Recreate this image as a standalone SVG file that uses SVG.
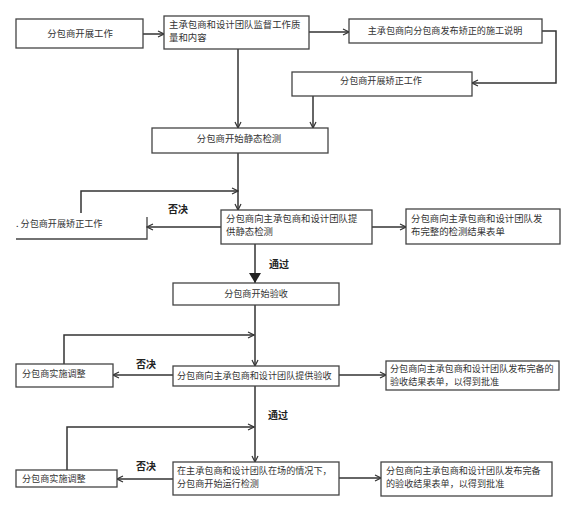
<svg xmlns="http://www.w3.org/2000/svg" width="574" height="507" viewBox="0 0 574 507">
<defs>
<marker id="a" markerWidth="8" markerHeight="8" refX="7" refY="4" orient="auto" markerUnits="userSpaceOnUse"><path d="M1,1 L7,4 L1,7" fill="none" stroke="#333" stroke-width="1.2"/></marker>
<marker id="f" markerWidth="12" markerHeight="12" refX="10" refY="6" orient="auto" markerUnits="userSpaceOnUse"><path d="M0,0 L10,6 L0,12 Z" fill="#222"/></marker>
<style>
.b{fill:#fff;stroke:#444;stroke-width:1.3}
.t{font-family:"Noto Sans CJK SC","Liberation Sans",sans-serif;font-size:9.1px;fill:#333}
.w{font-size:9.4px}
.c{text-anchor:middle}
.l{font-family:"Noto Sans CJK SC","Liberation Sans",sans-serif;font-size:10px;font-weight:bold;fill:#222}
.e{fill:none;stroke:#333;stroke-width:1.5}
</style>
</defs>
<rect width="574" height="507" fill="#fff"/>
<g id="connectors">
<path class="e" d="M143,34 H164" marker-end="url(#a)"/>
<path class="e" d="M309,32 H349" marker-end="url(#a)"/>
<path class="e" d="M542,31 H556 V83 H472" marker-end="url(#a)"/>
<path class="e" d="M238,49 V128" marker-end="url(#a)"/>
<path class="e" d="M313,96 V128" marker-end="url(#a)"/>
<path class="e" d="M238,153 V210" marker-end="url(#a)"/>
<path class="e" d="M81,213 V191 H238" marker-end="url(#a)"/>
<path class="e" d="M221,227 H147" marker-end="url(#a)"/>
<path class="e" d="M372,227 H406" marker-end="url(#a)"/>
<path class="e" d="M255,244 V283" marker-end="url(#f)"/>
<path class="e" d="M255,305 V366" marker-end="url(#a)"/>
<path class="e" d="M64,364 V335 H254" marker-end="url(#a)"/>
<path class="e" d="M173,375 H113" marker-end="url(#a)"/>
<path class="e" d="M339,375 H386" marker-end="url(#a)"/>
<path class="e" d="M255,386 V462" marker-end="url(#a)"/>
<path class="e" d="M67,470 V427 H254" marker-end="url(#a)"/>
<path class="e" d="M173,479 H117" marker-end="url(#a)"/>
<path class="e" d="M339,478 H381" marker-end="url(#a)"/>
<text class="l" x="168" y="213">否决</text>
<text class="l" x="269" y="268">通过</text>
<text class="l" x="136" y="368">否决</text>
<text class="l" x="268" y="419">通过</text>
<text class="l" x="136" y="470">否决</text>
</g>
<g id="n1"><rect class="b" x="16" y="19" width="127" height="29"/><text class="t w c" x="80" y="37">分包商开展工作</text></g>
<g id="n2"><rect class="b" x="164" y="16" width="145" height="33"/><text class="t w" x="169" y="28">主承包商和设计团队监督工作质</text><text class="t w" x="169" y="41">量和内容</text></g>
<g id="n3"><rect class="b" x="349" y="19" width="193" height="24"/><text class="t c" x="445" y="34">主承包商向分包商发布矫正的施工说明</text></g>
<g id="n4"><rect class="b" x="292" y="72" width="180" height="24"/><text class="t c" x="381" y="84">分包商开展矫正工作</text></g>
<g id="n5"><rect class="b" x="152" y="128" width="176" height="25"/><text class="t w c" x="239" y="142">分包商开始静态检测</text></g>
<g id="n6"><rect class="b" x="221" y="210" width="151" height="34"/><text class="t w" x="226" y="222">分包商向主承包商和设计团队提</text><text class="t w" x="226" y="235">供静态检测</text></g>
<g id="n7"><path d="M16,239 H147 V217" fill="none" stroke="#444" stroke-width="1.3"/><text class="t" x="16" y="227">. 分包商开展矫正工作</text></g>
<g id="n8"><rect class="b" x="406" y="209" width="154" height="35"/><text class="t w" x="411" y="222">分包商向主承包商和设计团队发</text><text class="t w" x="411" y="235">布完整的检测结果表单</text></g>
<g id="n9"><rect class="b" x="173" y="283" width="166" height="22"/><text class="t c" x="256" y="297">分包商开始验收</text></g>
<g id="n10"><rect class="b" x="173" y="366" width="166" height="20"/><text class="t" x="177" y="379">分包商向主承包商和设计团队提供验收</text></g>
<g id="n11"><rect class="b" x="16" y="364" width="97" height="23"/><text class="t" x="22" y="377">分包商实施调整</text></g>
<g id="n12"><rect class="b" x="386" y="361" width="173" height="29"/><text class="t" x="390" y="372">分包商向主承包商和设计团队发布完备的</text><text class="t" x="390" y="385">验收结果表单，以得到批准</text></g>
<g id="n13"><rect class="b" x="173" y="462" width="166" height="33"/><text class="t" x="177" y="474">在主承包商和设计团队在场的情况下，</text><text class="t" x="177" y="487">分包商开始运行检测</text></g>
<g id="n14"><rect class="b" x="16" y="470" width="101" height="17"/><text class="t" x="22" y="482">分包商实施调整</text></g>
<g id="n15"><rect class="b" x="381" y="462" width="171" height="34"/><text class="t" x="386" y="474">分包商向主承包商和设计团队发布完备</text><text class="t" x="386" y="487">的验收结果表单，以得到批准</text></g>
</svg>
